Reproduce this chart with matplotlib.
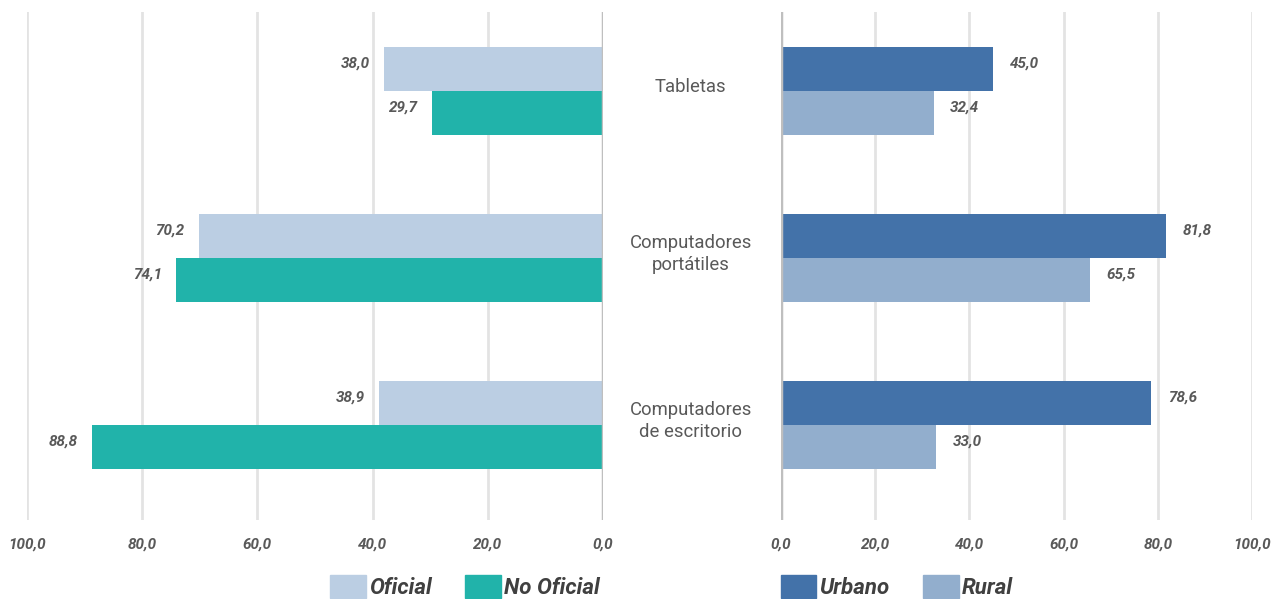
import numpy as np
import matplotlib.pyplot as plt
from matplotlib.patches import Patch

plt.rcParams['font.family'] = ['Roboto', 'DejaVu Sans']

categorias = ['Tabletas', 'Computadores\nportátiles', 'Computadores\nde escritorio']
oficial = [38.0, 70.2, 38.9]
no_oficial = [29.7, 74.1, 88.8]
urbano = [45.0, 81.8, 78.6]
rural = [32.4, 65.5, 33.0]
ticks = [0, 20, 40, 60, 80, 100]

c_ofi = '#bbcee3'
c_noofi = '#21b3aa'
c_urb = '#4372a9'
c_rur = '#92aecd'
txt = '#595959'

W, H = 1273, 599
fig = plt.figure(figsize=(W / 100, H / 100), dpi=100)
bot, top = 1 - 520 / H, 1 - 12 / H
axL = fig.add_axes([27 / W, bot, (603 - 27) / W, top - bot])
axR = fig.add_axes([781 / W, bot, (1252 - 781) / W, top - bot])

y = np.arange(len(categorias))
h = 0.263
lab_font = dict(fontsize=11, fontweight='bold', fontstyle='italic', color=txt)


def fmt(v):
    return f'{v:.1f}'.replace('.', ',')


for ax in (axL, axR):
    ax.set_ylim(2.569, -0.473)
    ax.set_yticks([])
    for s in ['top', 'right', 'bottom', 'left']:
        ax.spines[s].set_visible(False)
    ax.set_xticks(ticks)
    ax.set_xticklabels([fmt(t) for t in ticks], **lab_font)
    ax.tick_params(axis='x', length=0, pad=13)
    ax.grid(axis='x', color='#e3e3e3', linewidth=2)
    ax.set_axisbelow(True)
    ax.axvline(0, color='#bfbfbf', linewidth=2.5, zorder=3)

axL.set_xlim(100, 0)
axR.set_xlim(0, 100)

axL.barh(y - h / 2, oficial, height=h, color=c_ofi, zorder=2)
axL.barh(y + h / 2, no_oficial, height=h, color=c_noofi, zorder=2)
axR.barh(y - h / 2, urbano, height=h, color=c_urb, zorder=2)
axR.barh(y + h / 2, rural, height=h, color=c_rur, zorder=2)

for i in range(len(categorias)):
    axL.annotate(fmt(oficial[i]), (oficial[i], y[i] - h / 2), xytext=(-10, 4),
                 textcoords='offset points', ha='right', va='center', **lab_font)
    axL.annotate(fmt(no_oficial[i]), (no_oficial[i], y[i] + h / 2), xytext=(-10, 4),
                 textcoords='offset points', ha='right', va='center', **lab_font)
    axR.annotate(fmt(urbano[i]), (urbano[i], y[i] - h / 2), xytext=(12, 4),
                 textcoords='offset points', ha='left', va='center', **lab_font)
    axR.annotate(fmt(rural[i]), (rural[i], y[i] + h / 2), xytext=(12, 4),
                 textcoords='offset points', ha='left', va='center', **lab_font)
    axR.annotate(categorias[i], (0, y[i]), xytext=(-65, 3), textcoords='offset points',
                 ha='center', va='center', fontsize=13.3, color=txt, linespacing=1.25,
                 annotation_clip=False)

leg_font = dict(size=16, weight='bold', style='italic')
kw = dict(loc='center', ncol=2, frameon=False, prop=leg_font, handlelength=1.6,
          handleheight=1.2, handletextpad=0.15, columnspacing=1.5)
legL = fig.legend(handles=[Patch(color=c_ofi, label='Oficial'), Patch(color=c_noofi, label='No Oficial')],
                  bbox_to_anchor=(465 / W, 1 - 587 / H), **kw)
legR = fig.legend(handles=[Patch(color=c_urb, label='Urbano'), Patch(color=c_rur, label='Rural')],
                  bbox_to_anchor=(897 / W, 1 - 587 / H), **kw)
for leg in (legL, legR):
    for t in leg.get_texts():
        t.set_color('#404040')

fig.savefig('out.png', dpi=100)
